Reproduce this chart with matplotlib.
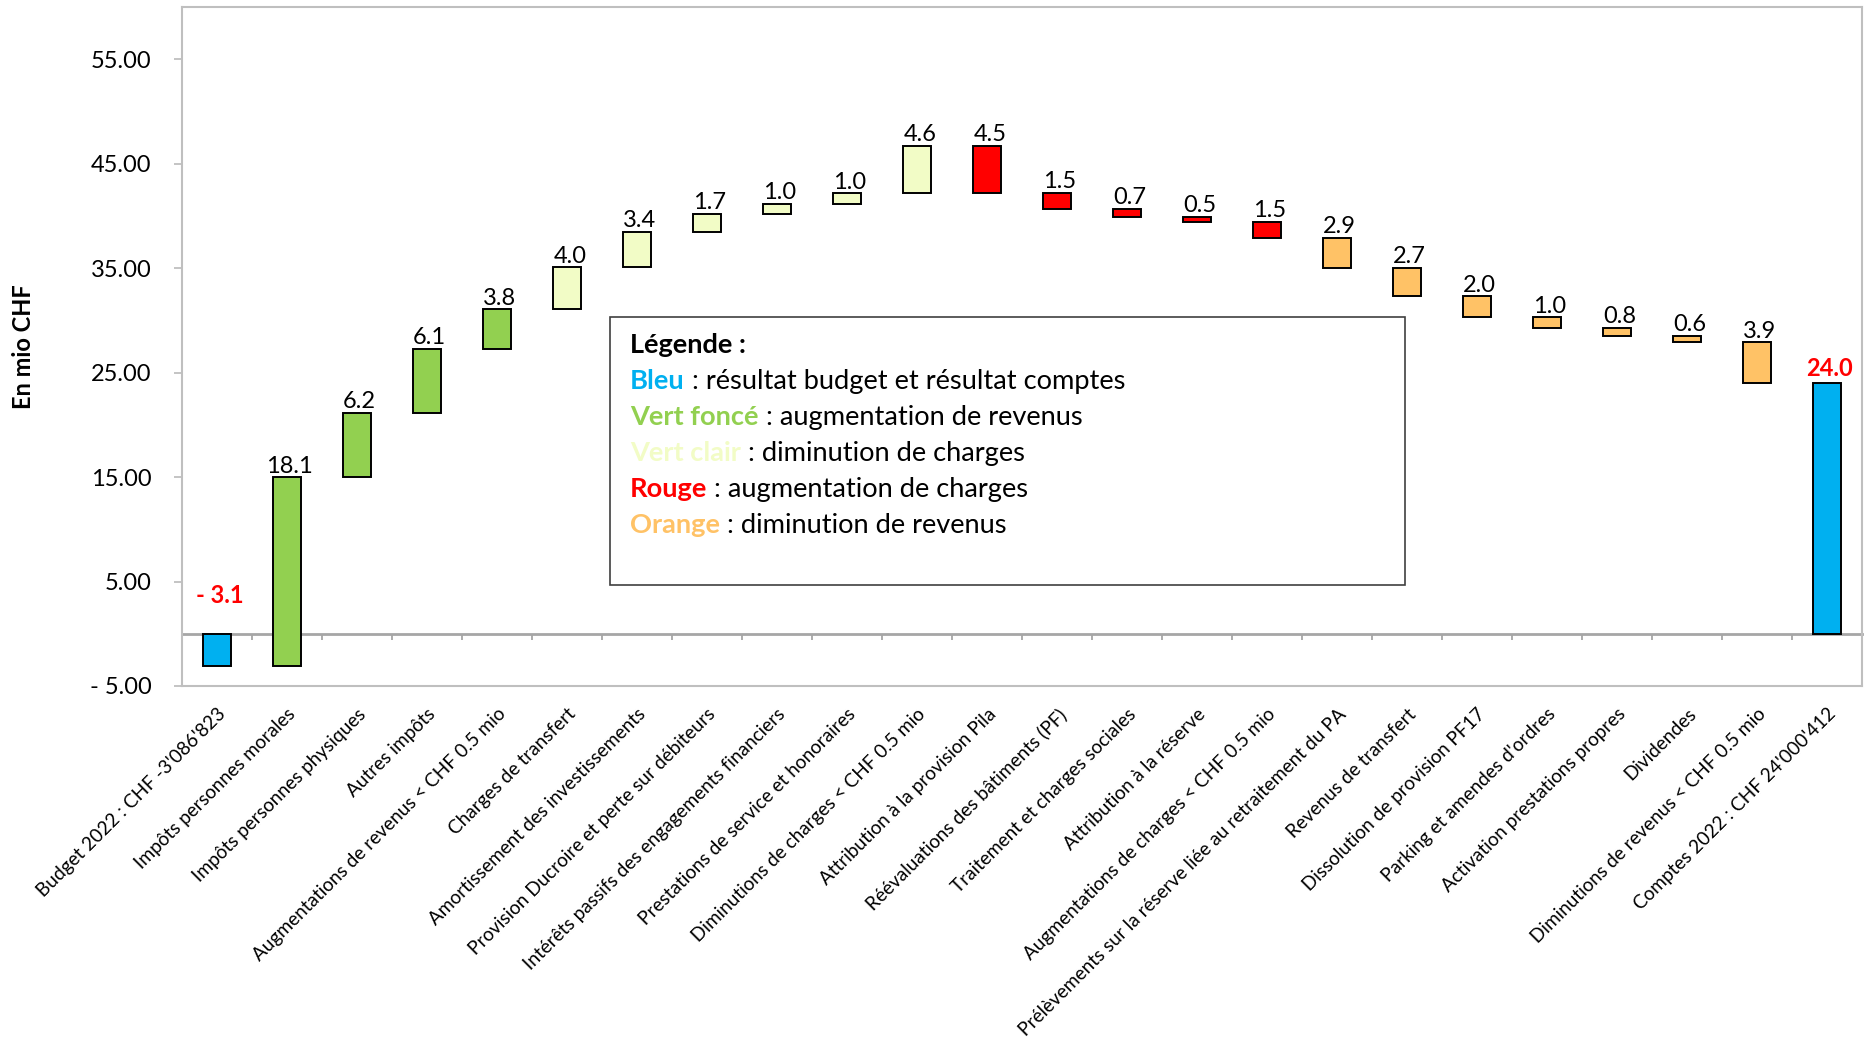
import numpy as np
import matplotlib
matplotlib.use('Agg')
import matplotlib.pyplot as plt
import matplotlib.ticker as ticker
from matplotlib.patches import Rectangle

##===================================================================
# Data (mio CHF)
##===================================================================
categories = [
    "Budget 2022 : CHF -3'086'823",
    "Impôts personnes morales",
    "Impôts personnes physiques",
    "Autres impôts",
    "Augmentations de revenus < CHF 0.5 mio",
    "Charges de transfert",
    "Amortissement des investissements",
    "Provision Ducroire et perte sur débiteurs",
    "Intérêts passifs des engagements financiers",
    "Prestations de service et honoraires",
    "Diminutions de charges < CHF 0.5 mio",
    "Attribution à la provision Pila",
    "Réévaluations des bâtiments (PF)",
    "Traitement et charges sociales",
    "Attribution à la réserve",
    "Augmentations de charges < CHF 0.5 mio",
    "Prélèvements sur la réserve liée au retraitement du PA",
    "Revenus de transfert",
    "Dissolution de provision PF17",
    "Parking et amendes d'ordres",
    "Activation prestations propres",
    "Dividendes",
    "Diminutions de revenus < CHF 0.5 mio",
    "Comptes 2022 : CHF 24'000'412",
]
budget_2022 = -3.09
comptes_2022 = 24.00
variations = [18.06, 6.2, 6.1, 3.8,
              4.0, 3.4, 1.7, 1.0, 1.0, 4.56,
              -4.54, -1.53, -0.72, -0.52, -1.52,
              -2.9, -2.7, -2.0, -1.0, -0.8, -0.6, -3.9]
kinds = ['bleu'] + ['vert'] * 4 + ['clair'] * 6 + ['rouge'] * 5 + ['orange'] * 7 + ['bleu']

legend_names = ['Bleu', 'Vert foncé', 'Vert clair', 'Rouge', 'Orange']
legend_texts = [' : résultat budget et résultat comptes',
                ' : augmentation de revenus',
                ' : diminution de charges',
                ' : augmentation de charges',
                ' : diminution de revenus']

pal = {'bleu': '#00B0F0', 'vert': '#92D050', 'clair': '#F2FCC6',
       'rouge': '#FF0000', 'orange': '#FFC266'}
legend_kinds = ['bleu', 'vert', 'clair', 'rouge', 'orange']

##===================================================================
plt.rcParams['font.family'] = ['Lato', 'DejaVu Sans']
grey = '#BFBFBF'

fig = plt.figure(figsize=(18.74, 10.5), dpi=100)
ax = fig.add_axes([0.0971, 0.3467, 0.8965, 0.6466])

# waterfall: each variation starts where the previous one ended
ends = budget_2022 + np.cumsum(variations)
starts = np.concatenate([[budget_2022], ends[:-1]])
bar_bottom = np.concatenate([[0], starts, [0]])
bar_height = np.concatenate([[budget_2022], variations, [comptes_2022]])
x = np.arange(len(categories))
colors = [pal[k] for k in kinds]

ax.bar(x, bar_height, bottom=bar_bottom, width=0.41, color=colors,
       edgecolor='black', linewidth=1.4, zorder=3)

# value labels
tops = np.maximum(bar_bottom, bar_bottom + bar_height)
for i in range(len(x)):
    if i == 0 or i == len(x) - 1:
        txt = '- %.1f' % abs(bar_height[i]) if bar_height[i] < 0 else '%.1f' % bar_height[i]
        off = 19 if i == 0 else 2
        ax.annotate(txt, (x[i], tops[i]), xytext=(2, off), textcoords='offset points',
                    ha='center', va='bottom', fontsize=17, color='red', fontweight='bold')
    else:
        ax.annotate('%.1f' % abs(bar_height[i]), (x[i], tops[i]), xytext=(2, 0.5),
                    textcoords='offset points', ha='center', va='bottom', fontsize=17)

ax.set_xlim(-0.5, len(categories) - 0.5)
ax.set_ylim(-5, 60)
ax.set_yticks(np.arange(-5, 60, 10))
ax.yaxis.set_major_formatter(ticker.FuncFormatter(
    lambda v, p: '- %.2f' % abs(v) if v < 0 else '%.2f' % v))
ax.tick_params(axis='y', labelsize=17, length=6, width=1.3, color=grey, pad=16)

ax.set_xticks(x)
ax.set_xticklabels(categories, rotation=45, ha='right', rotation_mode='anchor', fontsize=13.7)
ax.tick_params(axis='x', length=0, pad=14)

for s in ax.spines.values():
    s.set_color(grey)
    s.set_linewidth(1.5)

# horizontal axis crossing at zero, with ticks between categories
zero_ax = ax.secondary_xaxis(5 / 65)
zero_ax.set_xticks(np.arange(-0.5, len(categories), 1))
zero_ax.tick_params(axis='x', length=4, width=1.3, color='#A6A6A6', labelbottom=False)
zero_ax.spines['bottom'].set_color('#A6A6A6')
zero_ax.spines['bottom'].set_linewidth(2)

fig.text(0.0125, 0.6695, 'En mio CHF', rotation=90, va='center', ha='center',
         fontsize=17, fontweight='bold')

# legend box
ax.add_patch(Rectangle((0.255, 0.149), 0.473, 0.394, transform=ax.transAxes,
                       facecolor='white', edgecolor='#404040', linewidth=1.2, zorder=4))
ax.text(0.2667, 0.502, 'Légende :', transform=ax.transAxes, va='center', ha='left',
        fontsize=19.5, fontweight='bold', zorder=5)
for j in range(len(legend_names)):
    t = ax.text(0.2667, 0.449 - 0.053 * j, legend_names[j], transform=ax.transAxes,
                va='center', ha='left', fontsize=19.6, fontweight='bold',
                color=pal[legend_kinds[j]], zorder=5)
    ax.annotate(legend_texts[j], xy=(1, 0.5), xycoords=t, va='center', ha='left',
                fontsize=19.6, zorder=5)

plt.savefig('out.png', dpi=100)
